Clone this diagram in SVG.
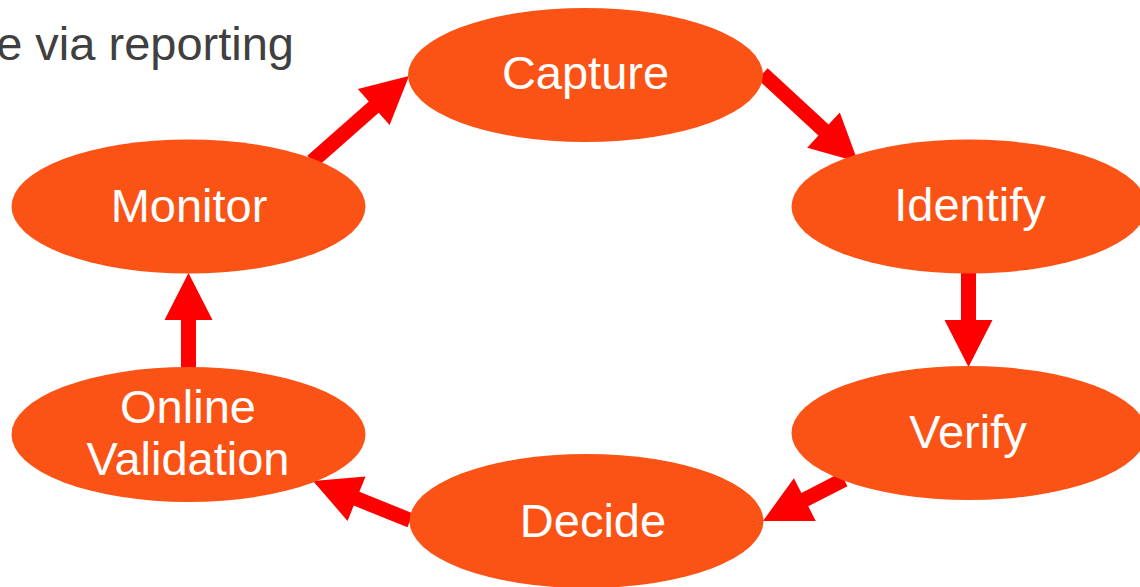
<svg xmlns="http://www.w3.org/2000/svg" width="1140" height="587" viewBox="0 0 1140 587">
<style>
.node{fill:#FB5316}
.lbl{font-family:"Liberation Sans",Arial,sans-serif;font-size:47px;fill:#FFFFFF;text-anchor:middle}
.arrow{fill:#FF0000}
.hdr{font-family:"Liberation Sans",Arial,sans-serif;font-size:47px;fill:#404040;text-anchor:end}
</style>
<rect width="1140" height="587" fill="#FFFFFF"/>
<text class="hdr" x="294" y="60">e via reporting</text>
<g id="connectors">
<polygon class="arrow" transform="translate(409,76) rotate(-41.4)" points="0,0 -47,-24 -47,-7.5 -129,-7.5 -129,7.5 -47,7.5 -47,24"/>
<polygon class="arrow" transform="translate(858,162) rotate(42.8)" points="0,0 -47,-24 -47,-7.5 -130,-7.5 -130,7.5 -47,7.5 -47,24"/>
<polygon class="arrow" transform="translate(968.5,367) rotate(90)" points="0,0 -47,-24 -47,-7.5 -96,-7.5 -96,7.5 -47,7.5 -47,24"/>
<polygon class="arrow" transform="translate(763,521) rotate(152.9)" points="0,0 -47,-24 -47,-7.5 -91,-7.5 -91,7.5 -47,7.5 -47,24"/>
<polygon class="arrow" transform="translate(313,481) rotate(202.05)" points="0,0 -47,-24 -47,-7.5 -105,-7.5 -105,7.5 -47,7.5 -47,24"/>
<polygon class="arrow" transform="translate(188.5,273) rotate(-90)" points="0,0 -47,-24 -47,-7.5 -95,-7.5 -95,7.5 -47,7.5 -47,24"/>
</g>
<g id="capture">
<ellipse class="node" cx="585.5" cy="75" rx="177.5" ry="67"/>
<text class="lbl" x="585.5" y="89">Capture</text>
</g>
<g id="identify">
<ellipse class="node" cx="969" cy="206.5" rx="177.5" ry="67"/>
<text class="lbl" x="970" y="221">Identify</text>
</g>
<g id="verify">
<ellipse class="node" cx="969" cy="433" rx="177.5" ry="67"/>
<text class="lbl" x="968" y="448">Verify</text>
</g>
<g id="decide">
<ellipse class="node" cx="586.5" cy="521" rx="177" ry="67"/>
<text class="lbl" x="593" y="537">Decide</text>
</g>
<g id="online-validation">
<ellipse class="node" cx="188.5" cy="434.5" rx="177" ry="67.5"/>
<text class="lbl" x="188" y="423">Online</text>
<text class="lbl" x="188" y="475">Validation</text>
</g>
<g id="monitor">
<ellipse class="node" cx="188.5" cy="206.5" rx="177" ry="67"/>
<text class="lbl" x="189" y="222">Monitor</text>
</g>
</svg>
